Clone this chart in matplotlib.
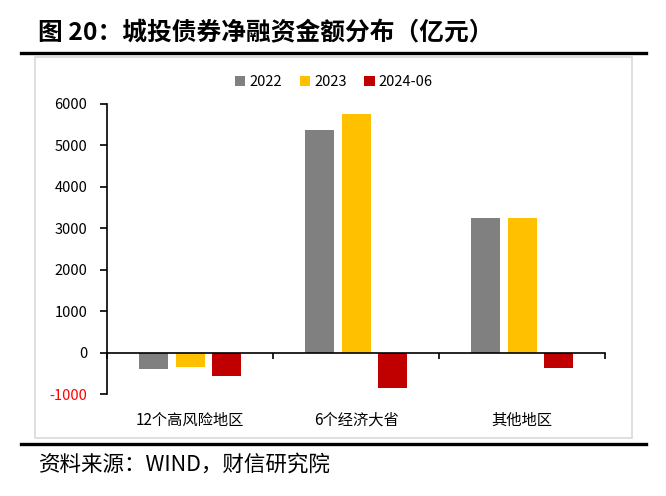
import numpy as np
import matplotlib
matplotlib.use("Agg")
import matplotlib.pyplot as plt
import matplotlib.transforms as mtrans
from matplotlib.patches import Rectangle
from matplotlib.lines import Line2D

plt.rcParams['font.family'] = ['Noto Sans CJK SC', 'DejaVu Sans']

# === DATA ===
categories = ['12个高风险地区', '6个经济大省', '其他地区']
series = ['2022', '2023', '2024-06']
v2022 = [-383, 5375, 3250]
v2023 = [-334, 5760, 3250]
v2024 = [-570, -840, -365]
colors = ['#808080', '#FFC000', '#C00000']

yticks = [-1000, 0, 1000, 2000, 3000, 4000, 5000, 6000]

fig = plt.figure(figsize=(6.66, 4.96), dpi=100)
W, H = 666, 496

def fx(px):
    return px / W

def fy(py):
    return 1 - py / H

# === FRAME / DECOR ===
fig.text(fx(38), fy(33), '图 20：城投债券净融资金额分布（亿元）', fontsize=17.8,
         fontweight='bold', va='center', ha='left')
fig.add_artist(Line2D([fx(21), fx(646)], [fy(53), fy(53)], color='black', lw=2.4))
fig.add_artist(Line2D([fx(21), fx(646)], [fy(444), fy(444)], color='black', lw=2.4))
fig.add_artist(Rectangle((fx(35), fy(438)), fx(632) - fx(35), fy(57) - fy(438),
                         fill=False, edgecolor='#D9D9D9', lw=1.2))
fig.text(fx(39), fy(465), '资料来源：WIND，财信研究院', fontsize=15.5,
         style='italic', va='center', ha='left')

# === AXES ===
ax = fig.add_axes([fx(107.3), fy(394.3), fx(605) - fx(107.3), fy(104) - fy(394.3)])
x = np.arange(len(categories))
pitch = 0.221
width = 0.175
for i, (vals, name) in enumerate(zip([v2022, v2023, v2024], series)):
    ax.bar(x + (i - 1) * pitch, vals, width, color=colors[i], label=name, zorder=2)

ax.set_xlim(-0.5, 2.5)
ax.set_ylim(-1000, 6000)
ax.set_yticks(yticks)
ax.set_yticklabels([str(t) for t in yticks], fontsize=10.5)
ax.get_yticklabels()[0].set_color('#FF0000')
ax.tick_params(axis='y', length=5, width=1.2, pad=9.5, direction='out')

ax.spines['top'].set_visible(False)
ax.spines['right'].set_visible(False)
ax.spines['left'].set_linewidth(1.2)
ax.spines['bottom'].set_position(('data', 0))
ax.spines['bottom'].set_linewidth(1.2)
ax.spines['bottom'].set_zorder(3)
ax.set_xticks([-0.5, 0.5, 1.5, 2.5])
ax.set_xticklabels([])
ax.tick_params(axis='x', length=4, width=1.2, direction='out')

trans = mtrans.blended_transform_factory(ax.transData, fig.transFigure)
for xi, c in zip(x, categories):
    ax.text(xi, fy(420), c, transform=trans, ha='center', va='center', fontsize=11)

ax.legend(loc='center', bbox_to_anchor=(fx(334), fy(82)), bbox_transform=fig.transFigure,
          ncol=3, frameon=False, fontsize=10.5, handlelength=0.7, handleheight=0.7,
          handletextpad=0.3, columnspacing=1.2)

fig.savefig('out.png', dpi=100)
